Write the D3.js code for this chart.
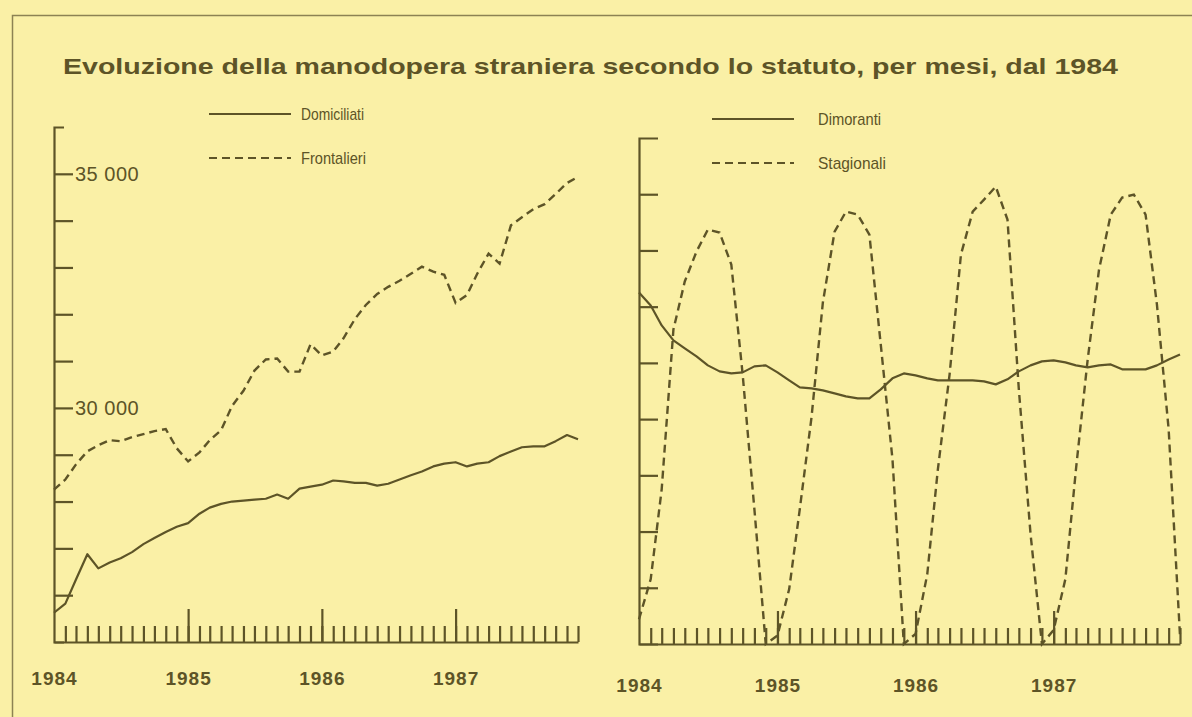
<!DOCTYPE html>
<meta charset="utf-8">
<script src="https://d3js.org/d3.v7.min.js"></script>
<style>
  body { margin: 0; background: #faf0a6; }
  svg { display: block; font-family: "Liberation Sans", Arial, sans-serif; }
  .ink { fill: #5d5427; }
</style>
<div id="chart"></div>
<script>
// monthly data, Jan 1984 .. Dec 1987
var months = d3.timeMonth.range(new Date(1984, 0, 1), new Date(1988, 0, 1));
var yearLabels = ["1984", "1985", "1986", "1987"];

var domiciliati = [25625, 25820, 26336, 26875, 26573, 26700, 26790, 26920, 27090, 27220, 27350, 27460,
                   27540, 27740, 27870, 27950, 28000, 28020, 28040, 28060, 28150, 28060, 28275, 28320,
                   28360, 28450, 28430, 28400, 28400, 28340, 28380, 28470, 28560, 28640, 28750, 28810,
                   28840, 28750, 28810, 28840, 28970, 29070, 29160, 29180, 29180, 29290, 29420, 29330];
var frontalieri = [28254, 28470, 28793, 29073, 29202, 29310, 29288, 29375, 29440, 29504, 29547, 29138,
                   28857, 29051, 29310, 29525, 30043, 30366, 30797, 31034, 31056, 30775, 30775, 31357,
                   31120, 31206, 31487, 31896, 32198, 32435, 32586, 32715, 32866, 33017, 32909, 32844,
                   32241, 32413, 32866, 33297, 33081, 33900, 34073, 34245, 34353, 34568, 34805, 34935];
var dimoranti = [6252, 6021, 5666, 5400, 5258, 5115, 4956, 4849, 4813, 4831, 4938, 4956,
                 4831, 4689, 4565, 4547, 4511, 4458, 4405, 4369, 4369, 4529, 4725, 4813,
                 4778, 4725, 4689, 4689, 4689, 4689, 4671, 4618, 4707, 4849, 4956, 5027,
                 5044, 5009, 4956, 4920, 4956, 4973, 4885, 4885, 4885, 4956, 5062, 5151];
var stagionali = [440, 1155, 2753, 5595, 6448, 6980, 7371, 7318, 6750, 4796, 2398, 0,
                  150, 977, 2400, 4032, 6075, 7335, 7690, 7638, 7282, 5328, 3286, 0,
                  180, 1243, 3108, 4796, 6927, 7690, 7904, 8135, 7549, 4529, 1954, 0,
                  250, 1155, 3108, 5062, 6660, 7638, 7940, 7993, 7638, 6039, 3819, 150];

var leftTicks = [26000, 27000, 28000, 29000, 30000, 31000, 32000, 33000, 34000, 35000];
var rightTicks = [1000, 2000, 3000, 4000, 5000, 6000, 7000, 8000];

var ink = "#5d5427";
var W = 1192, H = 717;

var svg = d3.select("#chart").append("svg")
    .attr("width", W)
    .attr("height", H);

// frame
svg.append("path")
    .attr("d", "M12.5," + H + "V15.5H" + W)
    .attr("fill", "none")
    .attr("stroke", "#8c8253")
    .attr("stroke-width", 1.5);

// title
svg.append("text")
    .attr("class", "ink")
    .attr("x", 63)
    .attr("y", 74)
    .attr("textLength", 1055)
    .attr("lengthAdjust", "spacingAndGlyphs")
    .style("font-size", "22px")
    .style("font-weight", "bold")
    .text("Evoluzione della manodopera straniera secondo lo statuto, per mesi, dal 1984");

function drawPanel(p) {
  var x = d3.scaleTime()
      .domain([months[0], months[months.length - 1]])
      .range([p.x0, p.x1]);
  var y = d3.scaleLinear()
      .domain(p.domain)
      .range([p.yBottom, p.yTop]);

  var g = svg.append("g");

  // y axis, ticks pointing inside
  var yAxis = g.append("g")
      .attr("transform", "translate(" + p.x0 + ",0)")
      .call(d3.axisRight(y)
          .tickValues(p.ticks)
          .tickSize(19)
          .tickSizeOuter(p.cap)
          .tickPadding(2)
          .tickFormat(p.format));

  // x axis: month ticks upward
  var xAxis = g.append("g")
      .attr("transform", "translate(0," + p.yBottom + ")")
      .call(d3.axisTop(x)
          .tickValues(months.slice(1))
          .tickSize(16)
          .tickSizeOuter(0)
          .tickFormat(""));

  // taller ticks on each January
  var yearTicks = g.append("g")
      .attr("transform", "translate(0," + p.yBottom + ")")
      .call(d3.axisTop(x)
          .tickValues(months.filter(function(d, i) { return i > 0 && d.getMonth() == 0; }))
          .tickSize(33)
          .tickFormat(""));
  yearTicks.select(".domain").remove();

  // year labels
  var yearLab = g.append("g")
      .attr("transform", "translate(0," + p.yBottom + ")")
      .call(d3.axisBottom(x)
          .tickValues(months.filter(function(d) { return d.getMonth() == 0; }))
          .tickSize(0)
          .tickPadding(p.labelPad)
          .tickFormat(function(d, i) { return yearLabels[i]; }));
  yearLab.select(".domain").remove();
  yearLab.selectAll("text")
      .attr("class", "ink")
      .attr("fill", null)
      .style("font-size", "19px")
      .style("font-weight", "bold")
      .style("letter-spacing", "1px");

  [yAxis, xAxis, yearTicks].forEach(function(a) {
    a.selectAll("path, line")
        .attr("stroke", ink)
        .attr("stroke-width", 2.2);
  });
  yAxis.selectAll("text")
      .attr("fill", ink)
      .style("font-size", "20px")
      .style("letter-spacing", "0.5px");

  var line = d3.line()
      .x(function(d, i) { return x(months[i]); })
      .y(function(d) { return y(d); });

  g.append("path")
      .datum(p.solid)
      .attr("d", line)
      .attr("fill", "none")
      .attr("stroke", ink)
      .attr("stroke-width", 2.2)
      .attr("stroke-linejoin", "round");

  g.append("path")
      .datum(p.dashed)
      .attr("d", line)
      .attr("fill", "none")
      .attr("stroke", ink)
      .attr("stroke-width", 2.4)
      .attr("stroke-dasharray", "8,5");

  // legend
  var leg = g.append("g");
  leg.append("line")
      .attr("x1", p.legX).attr("x2", p.legX + 82)
      .attr("y1", p.legY).attr("y2", p.legY)
      .attr("stroke", ink).attr("stroke-width", 2);
  leg.append("line")
      .attr("x1", p.legX).attr("x2", p.legX + 82)
      .attr("y1", p.legY + 44).attr("y2", p.legY + 44)
      .attr("stroke", ink).attr("stroke-width", 2)
      .attr("stroke-dasharray", "8,5");
  [0, 1].forEach(function(k) {
    leg.append("text")
        .attr("class", "ink")
        .attr("x", p.legX + p.textGap)
        .attr("y", p.legY + 6 + 44 * k)
        .attr("textLength", p.textLen[k])
        .attr("lengthAdjust", "spacingAndGlyphs")
        .style("font-size", "17px")
        .text(p.names[k]);
  });
}

drawPanel({
  x0: 54, x1: 578, yBottom: 642, yTop: 127,
  domain: [25000, 36000], ticks: leftTicks, cap: 10,
  format: function(d) { return d % 5000 == 0 ? d3.format(",")(d).replace(",", " ") : ""; },
  labelPad: 30,
  solid: domiciliati, dashed: frontalieri,
  names: ["Domiciliati", "Frontalieri"], textLen: [63, 65], textGap: 92,
  legX: 209, legY: 114
});

drawPanel({
  x0: 639, x1: 1180, yBottom: 644, yTop: 138,
  domain: [0, 9000], ticks: rightTicks, cap: 19,
  format: function() { return ""; },
  labelPad: 35,
  solid: dimoranti, dashed: stagionali,
  names: ["Dimoranti", "Stagionali"], textLen: [63, 68], textGap: 106,
  legX: 712, legY: 119
});
</script>
